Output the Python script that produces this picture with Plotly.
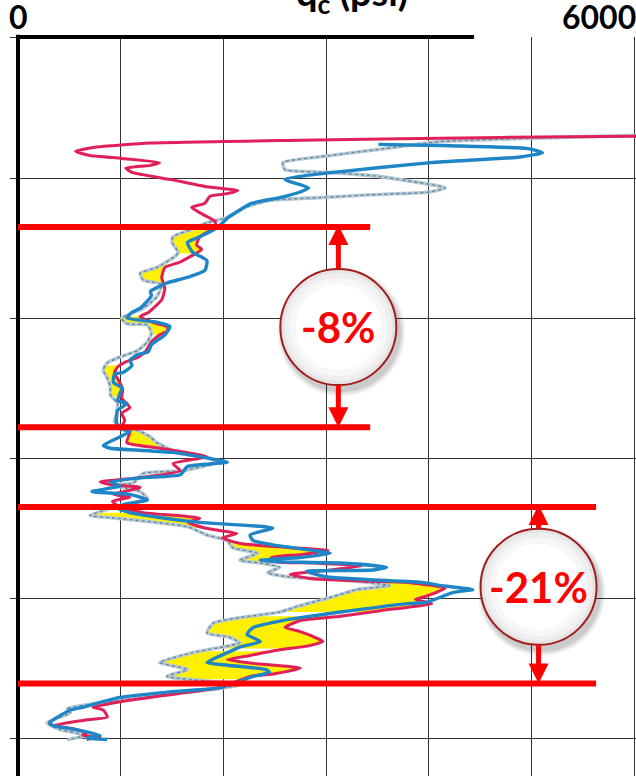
import numpy as np
import plotly.graph_objects as go

# Cone tip resistance profiles, qc (psi) against depth (ft)
red_qc = [6250, 4700, 2750, 1290, 750, 560, 700, 1010, 1380, 1290, 1050, 1110, 1480, 1820, 2140, 2050,
          1870, 1820, 1690, 1800, 1920, 1920, 1770, 1740, 1790, 1680, 1580, 1430, 1400, 1430, 1400, 1270,
          1190, 1350, 1450, 1460, 1380, 1300, 1240, 1170, 1060, 970, 940, 990, 1020, 1010, 1090, 1010,
          1040, 1010, 1090, 1060, 1380, 1840, 1510, 1580, 1190, 800, 900, 1190, 930, 1090, 920, 990,
          1220, 1770, 1660, 1820, 2130, 1990, 2160, 2650, 3020, 2750, 2470, 2500, 2890, 3350, 3040, 2650,
          2840, 3430, 3820, 4160, 3960, 3870, 4030, 3530, 3140, 2750, 2600, 2750, 2970, 2840, 2550, 2260,
          2040, 2330, 2750, 2500, 2260, 1970, 1580, 1090, 730, 830, 870, 670, 340, 510, 670, 630, 800, 670]
red_depth = [7.0, 7.1, 7.3, 7.5, 7.8, 8.1, 8.4, 8.6, 8.9, 9.1, 9.3, 9.6, 10.1, 10.6, 10.9, 11.1,
             11.3, 11.8, 12.1, 12.6, 13.1, 13.5, 14.2, 14.8, 15.1, 15.6, 16.0, 16.4, 17.1, 17.9, 18.7, 19.6,
             19.9, 20.4, 20.6, 20.9, 21.2, 21.7, 22.4, 22.8, 23.1, 23.5, 23.9, 24.6, 25.1, 25.7, 26.4, 26.8,
             27.3, 27.8, 28.1, 28.9, 29.3, 29.9, 30.4, 30.9, 31.4, 31.7, 31.9, 32.1, 32.6, 32.8, 33.1, 33.5,
             33.9, 34.3, 34.6, 35.0, 35.4, 35.7, 36.1, 36.4, 36.6, 36.9, 37.1, 37.4, 37.5, 37.7, 38.0, 38.3,
             38.6, 38.8, 38.9, 39.3, 39.9, 40.1, 40.4, 40.9, 41.3, 41.6, 42.1, 42.4, 43.1, 43.4, 43.7, 44.1,
             44.4, 44.7, 45.0, 45.4, 45.6, 46.4, 46.8, 47.3, 47.8, 48.0, 48.5, 48.7, 49.1, 49.3, 49.6, 49.8, 49.9, 50.1]

blue_qc = [3510, 4210, 4970, 5110, 4890, 4020, 3070, 2600, 2830, 2750, 2550, 2280, 2050, 1950, 1770, 1650,
           1700, 1840, 1820, 1650, 1450, 1290, 1300, 1190, 1110, 1060, 1350, 1480, 1430, 1300, 1270, 1170,
           1090, 1110, 1020, 940, 930, 1010, 970, 1060, 970, 960, 960, 990, 1090, 990, 830, 900,
           1510, 2040, 1650, 1580, 1220, 900, 990, 720, 1090, 1260, 1040, 970, 1090, 1430, 1770, 2480,
           2260, 2290, 2480, 2870, 3040, 2750, 2360, 2520, 3140, 3590, 3460, 2810, 3010, 3950, 4110, 4430,
           4240, 3980, 3790, 3140, 2750, 2580, 2290, 2230, 2360, 2160, 2040, 1840, 2040, 2410, 2450, 2290,
           1970, 1480, 990, 630, 510, 310, 340, 570, 800, 670, 870]
blue_depth = [7.6, 7.7, 7.9, 8.2, 8.5, 8.9, 9.6, 10.1, 10.7, 11.0, 11.4, 11.8, 12.8, 13.5, 14.2, 14.6,
              15.3, 15.9, 16.6, 17.1, 17.5, 18.1, 18.4, 19.3, 19.6, 20.0, 20.3, 20.6, 21.2, 21.9, 22.4, 22.6,
              23.0, 23.4, 23.9, 24.0, 24.6, 25.0, 25.9, 26.1, 26.6, 27.1, 27.5, 27.9, 28.1, 28.5, 29.1, 29.3,
              29.6, 30.3, 30.6, 31.2, 31.4, 31.7, 32.0, 32.4, 32.6, 33.0, 33.3, 33.6, 33.9, 34.3, 34.6, 35.0,
              35.5, 35.9, 36.2, 36.6, 36.8, 37.1, 37.3, 37.4, 37.5, 37.8, 38.0, 38.1, 38.5, 38.9, 39.1, 39.4,
              39.6, 40.3, 40.4, 41.0, 41.4, 41.6, 42.1, 42.6, 43.1, 43.5, 43.9, 44.6, 44.8, 45.1, 45.3, 45.6,
              46.4, 46.7, 47.1, 47.8, 48.0, 48.9, 49.1, 49.4, 49.8, 50.0, 50.1]

gray_qc = [6250, 5280, 4110, 3570, 3040, 2580, 2600, 3040, 3530, 4160, 4010, 3430, 2940, 2450, 2210, 2050,
           1840, 1680, 1510, 1500, 1560, 1530, 1350, 1190, 1220, 1400, 1350, 1220, 1010, 1060, 1260, 1300,
           1260, 1170, 990, 870, 830, 870, 900, 900, 970, 960, 940, 1020, 1160, 1290, 1350, 1550,
           1840, 1940, 1610, 1220, 1120, 900, 1190, 1260, 990, 700, 960, 1650, 1840, 2040, 2090, 2330,
           2160, 2360, 2550, 2430, 2650, 3140, 3620, 3300, 3070, 2870, 2720, 2550, 2160, 1900, 1840, 2060,
           2160, 1700, 1380, 1650, 1450, 2160, 990, 480, 510, 280, 410, 670, 480]
gray_depth = [6.9, 7.1, 7.4, 7.9, 8.4, 8.9, 9.4, 9.6, 9.9, 10.7, 11.0, 11.2, 11.4, 11.6, 12.1, 12.8,
              13.2, 13.7, 14.2, 14.6, 15.3, 15.6, 16.4, 16.8, 17.3, 17.6, 18.5, 19.3, 20.0, 20.4, 20.5, 21.1,
              21.7, 22.3, 22.8, 23.2, 23.7, 24.3, 24.9, 25.5, 26.1, 26.8, 27.4, 27.8, 28.0, 28.5, 28.9, 29.6,
              30.0, 30.3, 30.9, 31.1, 31.8, 31.9, 32.4, 32.9, 33.4, 34.1, 34.3, 34.9, 35.5, 35.9, 36.4, 36.8,
              37.3, 37.5, 37.8, 38.2, 38.5, 38.7, 39.1, 39.4, 39.9, 40.3, 40.6, 41.0, 41.4, 41.8, 42.5, 42.8,
              43.2, 43.9, 44.6, 45.1, 45.6, 46.2, 47.3, 47.9, 48.2, 48.9, 49.4, 49.8, 50.1]

# Depth windows shaded between the light profile and the red profile
shade_top = [13.5, 16.2, 19.9, 23.4, 27.9, 33.9, 35.6, 38.4, 41.3, 43.8]
shade_bottom = [15.4, 17.7, 21.2, 25.6, 29.2, 35.0, 37.5, 41.0, 43.6, 45.8]

# Change brackets: depth limits, extent of the boundary lines, badge position and label
bracket_top = [13.5, 33.5]
bracket_bottom = [27.8, 46.1]
bracket_extent = [3430, 5630]
badge_qc = [3120, 5070]
badge_depth = [20.65, 39.2]
badge_text = ["-8%", "-21%"]

qc_ticks = [0, 1000, 2000, 3000, 4000, 5000, 6000]
depth_ticks = [0, 10, 20, 30, 40, 50]

W, H = 636, 776
M_L, M_T = 18, 37
DEPTH_MAX = 52.71
QC_MAX = 6019
px_per_ft = (H - M_T) / (DEPTH_MAX + 0.07)

RED = "#E11F58"
BLUE = "#1E86C6"
BRIGHT = "#FF0000"
FONT = "Lato"

fig = go.Figure()

# yellow shading
for d0, d1 in zip(shade_top, shade_bottom):
    grid = np.linspace(d0, d1, 120)
    g = np.interp(grid, gray_depth, gray_qc)
    r = np.interp(grid, red_depth, red_qc)
    fig.add_trace(go.Scatter(
        x=np.concatenate([g, r[::-1]]), y=np.concatenate([grid, grid[::-1]]),
        mode="lines", fill="toself", fillcolor="#FFF000",
        line=dict(width=0, color="#FFF000"), hoverinfo="skip", showlegend=False))

# light dotted profile
fig.add_trace(go.Scatter(x=gray_qc, y=gray_depth, mode="lines",
                         line=dict(color="#B4CAD7", width=3.6, shape="spline", smoothing=0.5),
                         hoverinfo="skip", showlegend=False))
fig.add_trace(go.Scatter(x=gray_qc, y=gray_depth, mode="lines",
                         line=dict(color="#6E8695", width=1.4, dash="dot", shape="spline", smoothing=0.5),
                         hoverinfo="skip", showlegend=False))
fig.add_trace(go.Scatter(x=red_qc, y=red_depth, mode="lines",
                         line=dict(color=RED, width=3, shape="spline", smoothing=0.5),
                         hoverinfo="skip", showlegend=False))
fig.add_trace(go.Scatter(x=blue_qc, y=blue_depth, mode="lines",
                         line=dict(color=BLUE, width=3.4, shape="spline", smoothing=0.5),
                         hoverinfo="skip", showlegend=False))

shapes = []
# frame: thick left axis and partial thick top edge
shapes.append(dict(type="line", xref="paper", yref="paper", x0=0, x1=0, y0=0, y1=1.003,
                   line=dict(color="black", width=4)))
shapes.append(dict(type="line", xref="paper", yref="paper", x0=-0.003, x1=0.738, y0=1, y1=1,
                   line=dict(color="black", width=4)))

# bracket boundary lines
for top, bot, ext in zip(bracket_top, bracket_bottom, bracket_extent):
    for d in (top, bot):
        shapes.append(dict(type="line", xref="x", yref="y", x0=0, x1=ext, y0=d, y1=d,
                           line=dict(color=BRIGHT, width=6), layer="above"))

# badges
R = 58
for cx, cy in zip(badge_qc, badge_depth):
    base = dict(type="circle", xref="x", yref="y", xsizemode="pixel", ysizemode="pixel",
                xanchor=cx, yanchor=cy, layer="above")
    for grow, alpha in ((6, 0.05), (4, 0.07), (2, 0.09)):
        shapes.append({**base, "x0": -R - grow + 3, "x1": R + grow + 3,
                       "y0": -R - grow - 5, "y1": R + grow - 5,
                       "fillcolor": f"rgba(0,0,0,{alpha})", "line": dict(width=0)})
    shapes.append({**base, "x0": -R, "x1": R, "y0": -R, "y1": R,
                   "fillcolor": "#E4E4E4", "line": dict(color="#A31C1C", width=2)})
    for rr, col in ((R - 4, "#EFEFEF"), (R - 9, "#F7F7F7"), (R - 15, "#FFFFFF")):
        shapes.append({**base, "x0": -rr, "x1": rr, "y0": -rr, "y1": rr,
                       "fillcolor": col, "line": dict(width=0)})

annotations = []
r_ft = (R - 1) / px_per_ft
for cx, cy, top, bot, label in zip(badge_qc, badge_depth, bracket_top, bracket_bottom, badge_text):
    # double-headed arrow from the badge to each boundary line
    for tip, tail in ((top - 0.15, cy - r_ft), (bot, cy + r_ft)):
        annotations.append(dict(x=cx, y=tip, ax=cx, ay=tail, xref="x", yref="y", axref="x", ayref="y",
                                text="", showarrow=True, arrowhead=2, arrowsize=0.8, arrowwidth=5,
                                arrowcolor=BRIGHT, standoff=0, startstandoff=0))
    annotations.append(dict(x=cx, y=cy, xref="x", yref="y", text=label, showarrow=False,
                            font=dict(family=FONT, size=42, color=BRIGHT, weight="bold"),
                            xanchor="center", yanchor="middle"))

# axis end labels and title
annotations.append(dict(x=0, y=(H - 17) / (H - M_T), xref="paper", yref="paper", text="0",
                        showarrow=False, xanchor="center", yanchor="middle",
                        font=dict(family=FONT, size=32, color="black", weight="bold")))
annotations.append(dict(x=1.003, y=(H - 17) / (H - M_T), xref="paper", yref="paper", text="6000",
                        showarrow=False, xanchor="right", yanchor="middle",
                        font=dict(family=FONT, size=32, color="black", weight="bold")))
annotations.append(dict(x=(352 - M_L) / (W - M_L), y=(H + 6) / (H - M_T), xref="paper", yref="paper",
                        text="q<sub>c</sub> (psi)", showarrow=False, xanchor="center", yanchor="middle",
                        font=dict(family=FONT, size=38, color="black", weight="bold")))

fig.update_layout(
    width=W, height=H,
    margin=dict(l=M_L, r=0, t=M_T, b=0, pad=0),
    paper_bgcolor="white", plot_bgcolor="white",
    shapes=shapes, annotations=annotations,
    showlegend=False,
    xaxis=dict(range=[0, QC_MAX], side="top", tickvals=qc_ticks, showticklabels=False, ticks="",
               showgrid=True, gridcolor="#333333", gridwidth=1.2, zeroline=False, showline=False,
               fixedrange=True),
    yaxis=dict(range=[DEPTH_MAX, -0.07], tickvals=depth_ticks, showticklabels=False, ticks="outside",
               ticklen=7, tickwidth=1, tickcolor="#333333", showgrid=True, gridcolor="#333333",
               gridwidth=1.2, zeroline=False, showline=False, fixedrange=True),
)

fig.write_html("out.html")
